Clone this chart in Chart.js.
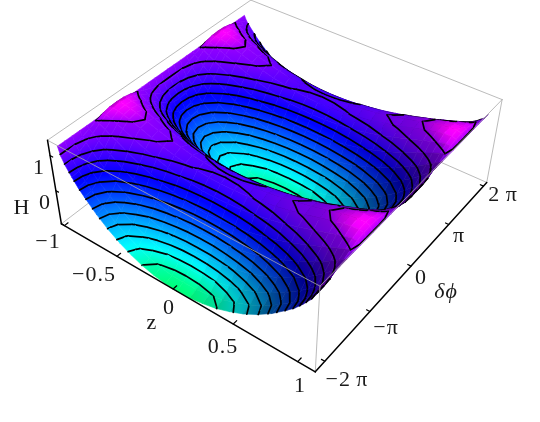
<!DOCTYPE html>
<html><head><meta charset="utf-8">
<style>html,body{margin:0;padding:0;background:#fff}canvas{display:block}</style>
<script src="https://cdn.jsdelivr.net/npm/chart.js@4"></script></head>
<body><canvas id="c" width="540" height="422"></canvas>
<script>
// axis values
const zValues=[-.94,-.921,-.892,-.843,-.795,-.746,-.649,-.552,-.455,-.358,-.261,-.164,-.067,.03,.14,.25,.36,.47,.58,.69,.8,.91,.965,1.02,1.075,1.108,1.13];
const phiOverPi=[-2.2,-2.065,-1.93,-1.795,-1.66,-1.525,-1.39,-1.256,-1.121,-.986,-.851,-.716,-.581,-.446,-.311,-.177,-.042,.093,.228,.363,.498,.633,.768,.902,1.037,1.172,1.307,1.442,1.577,1.712];
const contourLevels=[-.82,-.64,-.46,-.28,-.1,.08,.26,.44,.62,.8,.98,1.2,1.42];
const hTicks=[-1,0,1];
const zTicks=[-1,-.5,0,.5,1];
const phiTicks=[-2,-1,0,1,2];
// surface heights H, one list per z row
const r000=[-1,-.92,-.71,-.38,0,.38,.71,.92,1,.92,.71,.38,0,-.38,-.71,-.92,-1,-.92,-.71,-.38,0,.38,.71,.92,1,.92,.71,.38,0,-.38];
const r010=[-.98,-.91,-.69,-.37,.01,.4,.72,.93,1.01,.93,.72,.4,.01,-.37,-.69,-.91,-.98,-.91,-.69,-.37,.01,.4,.72,.93,1.01,.93,.72,.4,.01,-.37];
const r020=[-.92,-.85,-.64,-.32,.06,.43,.75,.96,1.04,.96,.75,.43,.06,-.32,-.64,-.85,-.92,-.85,-.64,-.32,.06,.43,.75,.96,1.04,.96,.75,.43,.06,-.32];
const r030=[-.83,-.76,-.55,-.24,.13,.49,.8,1.01,1.08,1.01,.8,.49,.13,-.24,-.55,-.76,-.83,-.76,-.55,-.24,.13,.49,.8,1.01,1.08,1.01,.8,.49,.13,-.24];
const r040=[-.69,-.62,-.42,-.13,.22,.58,.87,1.07,1.14,1.07,.87,.58,.22,-.13,-.42,-.62,-.69,-.62,-.42,-.13,.22,.58,.87,1.07,1.14,1.07,.87,.58,.22,-.13];
const r050=[-.52,-.45,-.26,.02,.35,.68,.96,1.15,1.22,1.15,.96,.68,.35,.02,-.26,-.45,-.52,-.45,-.26,.02,.35,.68,.96,1.15,1.22,1.15,.96,.68,.35,.02];
const r060=[-.3,-.24,-.06,.2,.5,.81,1.07,1.24,1.3,1.24,1.07,.81,.5,.2,-.06,-.24,-.3,-.24,-.06,.2,.5,.81,1.07,1.24,1.3,1.24,1.07,.81,.5,.2];
const r070=[-.03,.03,.18,.41,.69,.96,1.19,1.35,1.4,1.35,1.19,.96,.69,.41,.18,.03,-.03,.03,.18,.41,.69,.96,1.19,1.35,1.4,1.35,1.19,.96,.69,.41];
const r080=[.3,.34,.47,.67,.9,1.13,1.32,1.45,1.5,1.45,1.32,1.13,.9,.67,.47,.34,.3,.34,.47,.67,.9,1.13,1.32,1.45,1.5,1.45,1.32,1.13,.9,.67];
const r085=[.48,.52,.64,.81,1.01,1.21,1.38,1.5,1.54,1.5,1.38,1.21,1.01,.81,.64,.52,.48,.52,.64,.81,1.01,1.21,1.38,1.5,1.54,1.5,1.38,1.21,1.01,.81];
const r090=[.7,.73,.83,.97,1.13,1.3,1.44,1.54,1.57,1.54,1.44,1.3,1.13,.97,.83,.73,.7,.73,.83,.97,1.13,1.3,1.44,1.54,1.57,1.54,1.44,1.3,1.13,.97];
const r095=[.95,.98,1.04,1.15,1.26,1.38,1.49,1.55,1.58,1.55,1.49,1.38,1.26,1.15,1.04,.98,.95,.98,1.04,1.15,1.26,1.38,1.49,1.55,1.58,1.55,1.49,1.38,1.26,1.15];
const r098=[1.15,1.16,1.2,1.27,1.34,1.42,1.49,1.53,1.54,1.53,1.49,1.42,1.34,1.27,1.2,1.16,1.15,1.16,1.2,1.27,1.34,1.42,1.49,1.53,1.54,1.53,1.49,1.42,1.34,1.27];
const r100=[1.4,1.4,1.4,1.4,1.4,1.4,1.4,1.4,1.4,1.4,1.4,1.4,1.4,1.4,1.4,1.4,1.4,1.4,1.4,1.4,1.4,1.4,1.4,1.4,1.4,1.4,1.4,1.4,1.4,1.4];
const heights=[r100,r098,r095,r090,r085,r080,r070,r060,r050,r040,r030,r020,r010,r000,r010,r020,r030,r040,r050,r060,r070,r080,r085,r090,r095,r098,r100];

// plot box limits and camera calibration
const Z0=-1.03,Z1=1.13,P0=-2.2,P1=2.1,H0=-1,H1=1.42;
const calib=[[Z0,P0,H0,62,225],[Z1,P0,H0,316,371],[Z1,P1,H0,487,183],[Z0,P1,H0,250,78],
             [Z0,P0,H1,47,139],[Z1,P0,H1,319,287],[Z1,P1,H1,502,99],[Z0,P1,H1,252,1]];
function solveCamera(){
  const n=11,A=Array.from({length:n},()=>new Array(n+1).fill(0));
  const add=(r,b)=>{for(let i=0;i<n;i++){for(let j=0;j<n;j++)A[i][j]+=r[i]*r[j];A[i][n]+=r[i]*b;}};
  for(const [X,Y,Z,u,v] of calib){
    add([X,Y,Z,1,0,0,0,0,-u*X,-u*Y,-u*Z],u);
    add([0,0,0,0,X,Y,Z,1,-v*X,-v*Y,-v*Z],v);
  }
  for(let c=0;c<n;c++){
    let m=c;for(let r=c+1;r<n;r++)if(Math.abs(A[r][c])>Math.abs(A[m][c]))m=r;
    [A[c],A[m]]=[A[m],A[c]];
    for(let r=0;r<n;r++){if(r===c)continue;const f=A[r][c]/A[c][c];for(let j=c;j<=n;j++)A[r][j]-=f*A[c][j];}
  }
  return A.map((row,i)=>row[n]/row[i]);
}
const cam=solveCamera();
function proj(z,p,h){
  const w=cam[8]*z+cam[9]*p+cam[10]*h+1;
  return {x:(cam[0]*z+cam[1]*p+cam[2]*h+cam[3])/w,y:(cam[4]*z+cam[5]*p+cam[6]*h+cam[7])/w};
}
function hsv(h,s,v){
  const i=Math.floor(h*6),f=h*6-i,q=v*(1-f*s),t=v*(1-(1-f)*s),b=v*(1-s);
  const [r,g,bl]=[[v,t,b],[q,v,b],[b,v,t],[b,q,v],[t,b,v],[v,b,q]][i%6];
  return `rgb(${Math.round(r*255)},${Math.round(g*255)},${Math.round(bl*255)})`;
}
const hueStops=[[-1,.41],[-.6,.5],[-.2,.56],[.2,.62],[.6,.67],[1,.72],[1.2,.745],[1.4,.76],[1.45,.785],[1.58,.835]];
function hueAt(H){
  if(H<=hueStops[0][0])return hueStops[0][1];
  for(let i=1;i<hueStops.length;i++){
    if(H<=hueStops[i][0]){const [a,b]=hueStops[i-1],[c,d]=hueStops[i];return b+(d-b)*(H-a)/(c-a);}
  }
  return hueStops[hueStops.length-1][1];
}
const ctx0=document.getElementById('c').getContext('2d');
function cellFill(q,hs,v){
  const mx=(q[0].x+q[1].x+q[2].x+q[3].x)/4,my=(q[0].y+q[1].y+q[2].y+q[3].y)/4,mh=(hs[0]+hs[1]+hs[2]+hs[3])/4;
  let sxx=0,sxy=0,syy=0,sxh=0,syh=0,R=0;
  for(let k=0;k<4;k++){const dx=q[k].x-mx,dy=q[k].y-my,dh=hs[k]-mh;sxx+=dx*dx;sxy+=dx*dy;syy+=dy*dy;sxh+=dx*dh;syh+=dy*dh;R=Math.max(R,Math.hypot(dx,dy));}
  const det=sxx*syy-sxy*sxy;
  const flat=hsv(hueAt(mh),1,v);
  if(Math.abs(det)<1e-6)return flat;
  const gx=(sxh*syy-syh*sxy)/det,gy=(syh*sxx-sxh*sxy)/det,g=Math.hypot(gx,gy);
  if(g<1e-5)return flat;
  const ux=gx/g,uy=gy/g,L=R+1;
  const gr=ctx0.createLinearGradient(mx-ux*L,my-uy*L,mx+ux*L,my+uy*L);
  [0,.25,.5,.75,1].forEach(t=>gr.addColorStop(t,hsv(hueAt(mh+(2*t-1)*L*g),1,v)));
  return gr;
}
const list=[];
const seg=(a,b,color,w)=>list.push({data:[proj(...a),proj(...b)],borderColor:color,borderWidth:w,fill:false});
const GREY='#aaaaaa';
// rear box edges
seg([Z0,P0,H1],[Z0,P1,H1],GREY,.8);seg([Z0,P1,H1],[Z1,P1,H1],GREY,.8);
seg([Z0,P0,H0],[Z0,P1,H0],GREY,.8);seg([Z0,P1,H0],[Z1,P1,H0],GREY,.8);
seg([Z1,P1,H0],[Z1,P1,H1],GREY,.8);
// surface, far to near
const nz=zValues.length,np=phiOverPi.length;
for(let i=0;i<nz-1;i++){
  for(let j=np-2;j>=0;j--){
    const z0=zValues[i],z1=zValues[i+1],p0=phiOverPi[j],p1=phiOverPi[j+1];
    const a=heights[i][j],b=heights[i][j+1],c=heights[i+1][j+1],d=heights[i+1][j];
    const gz=((c+d)-(a+b))/2/(z1-z0);
    const v=1-.2*Math.min(2.2,Math.max(0,gz-.2));
    const q=[proj(z0,p0,a),proj(z0,p1,b),proj(z1,p1,c),proj(z1,p0,d)];
    const col=cellFill(q,[a,b,c,d],v);
    list.push({data:[q[0],q[1],q[2],q[3],q[0]],fill:'shape',backgroundColor:col,borderColor:col,borderWidth:.6});
    const pts=[];
    const cor=[[z0,p0,a],[z0,p1,b],[z1,p1,c],[z1,p0,d]];
    for(const L of contourLevels){
      const hits=[];
      for(let k=0;k<4;k++){
        const A=cor[k],B=cor[(k+1)%4];
        if((A[2]<L)!==(B[2]<L)){
          const t=(L-A[2])/(B[2]-A[2]);
          hits.push(proj(A[0]+t*(B[0]-A[0]),A[1]+t*(B[1]-A[1]),L));
        }
      }
      if(hits.length>=2){pts.push(hits[0],hits[1],{x:null,y:null});}
      if(hits.length===4){pts.push(hits[2],hits[3],{x:null,y:null});}
    }
    if(pts.length)list.push({data:pts,borderColor:'#000',borderWidth:1.7,fill:false});
  }
}
// front box edges and axes
seg([Z0,P0,H1],[Z1,P0,H1],GREY,.8);seg([Z1,P0,H1],[Z1,P1,H1],GREY,.8);seg([Z1,P0,H0],[Z1,P0,H1],GREY,.8);
seg([Z0,P0,H0],[Z0,P0,H1],'#000',1.5);seg([Z0,P0,H0],[Z1,P0,H0],'#000',1.5);seg([Z1,P0,H0],[Z1,P1,H0],'#000',1.5);
hTicks.forEach(h=>seg([Z0,P0,h],[Z0+.025,P0,h],'#000',1.2));
zTicks.forEach(z=>seg([z,P0,H0],[z,P0+.07,H0],'#000',1.2));
phiTicks.forEach(p=>seg([Z1,p,H0],[Z1-.025,p,H0],'#000',1.2));

const datasets=list.map((d,i)=>Object.assign(d,{order:-i,pointRadius:0,tension:0,spanGaps:false,clip:false,borderCapStyle:'round'}));

const labels=[
 ['1',39,168],['0',45,203],['\u22121',48,242],['H',22,208],
 ['\u22120.5',94,275],['0',169,308],['0.5',223,347],['1',300,386],['z',152,323],
 ['\u22122\u2009\u03c0',347,380],['\u2212\u03c0',386,328],['0',421,278],['\u03c0',459,236],['2\u2009\u03c0',503,195],
 ['\u03b4\u03d5',446,292,'italic ']
];
const textPlugin={id:'labels',afterDraw(ch){
  const c=ch.ctx,sx=ch.scales.x,sy=ch.scales.y;
  c.save();c.fillStyle='#1a1a1a';c.textAlign='center';c.textBaseline='middle';c.letterSpacing='1px';
  for(const [t,x,y,st] of labels){
    c.font=(st||'')+'22px "Liberation Serif"';
    c.fillText(t,sx.getPixelForValue(x),sy.getPixelForValue(y));
  }
  c.restore();
}};
new Chart(document.getElementById('c'),{
  type:'line',data:{datasets},plugins:[textPlugin],
  options:{responsive:false,animation:false,events:[],layout:{padding:0},
    plugins:{legend:{display:false},tooltip:{enabled:false},filler:{propagate:false}},
    scales:{x:{type:'linear',min:0,max:540,display:false},y:{type:'linear',min:0,max:422,reverse:true,display:false}}}
});
</script></body></html>
